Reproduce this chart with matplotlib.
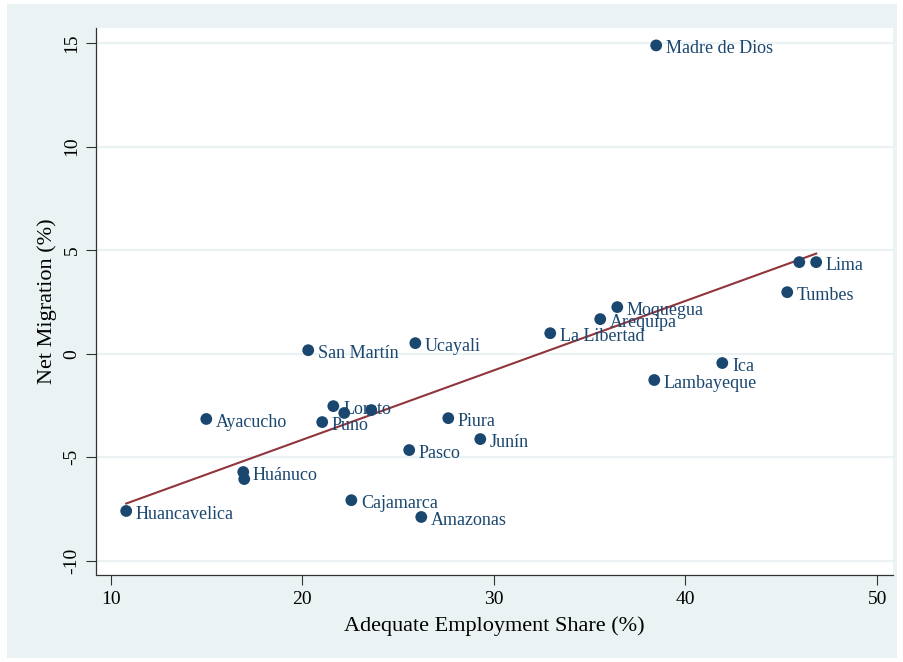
#!/usr/bin/env python3
"""
Net migration vs adequate employment share by region, with linear fit
"""

import numpy as np
import matplotlib.pyplot as plt
from matplotlib.patches import Rectangle

# Region data (x: adequate employment share %, y: net migration %)
regions = ['Madre de Dios', 'Lima', '', 'Tumbes', 'Moquegua', 'Arequipa',
           'La Libertad', 'Ica', 'Lambayeque', 'Ucayali', 'San Martín',
           'Ayacucho', 'Loreto', '', '', 'Puno', 'Piura', 'Junín', 'Pasco',
           'Huánuco', '', 'Cajamarca', 'Amazonas', 'Huancavelica']
emp_share = [38.47, 46.82, 45.94, 45.31, 36.44, 35.55,
             32.94, 41.92, 38.37, 25.90, 20.31,
             14.99, 21.62, 22.19, 23.60, 21.04, 27.62, 29.29, 25.58,
             16.92, 16.97, 22.56, 26.21, 10.81]
net_migr = [14.88, 4.42, 4.42, 2.97, 2.25, 1.67,
            0.99, -0.45, -1.27, 0.51, 0.17,
            -3.15, -2.53, -2.86, -2.72, -3.30, -3.11, -4.12, -4.65,
            -5.71, -6.05, -7.07, -7.88, -7.59]

x_ticks = [10, 20, 30, 40, 50]
y_ticks = [-10, -5, 0, 5, 10, 15]

NAVY = '#1a476f'
MAROON = '#90353b'
BG = '#eaf2f3'

plt.rcParams['font.family'] = ['Liberation Serif', 'DejaVu Serif']

fig = plt.figure(figsize=(9.04, 6.62), dpi=100, facecolor='white')
# outer graph region, drawn beneath the axes
bg = Rectangle((7 / 904, 1 - 658 / 662), 890 / 904, 654 / 662,
               transform=fig.transFigure, facecolor=BG, edgecolor='none')
bg.set_zorder(-10)
fig.add_artist(bg)

ax = fig.add_axes([96.5 / 904, 1 - 575 / 662, 796.5 / 904, 547 / 662])
ax.set_facecolor('white')

x = np.array(emp_share)
y = np.array(net_migr)

# linear fit over the observed range
slope, intercept = np.polyfit(x, y, 1)
xf = np.array([x.min(), x.max()])
ax.plot(xf, intercept + slope * xf, color=MAROON, lw=1.5, zorder=2)

ax.scatter(x, y, s=72, color=NAVY, edgecolors='none', zorder=3)
for name, xi, yi in zip(regions, x, y):
    if name:
        ax.annotate(name, (xi, yi), xytext=(7, -2.5), textcoords='offset points',
                    ha='left', va='center', fontsize=13, color=NAVY, zorder=4)

ax.set_xlim(9.26, 50.83)
ax.set_ylim(-10.68, 15.72)
ax.set_xticks(x_ticks)
ax.set_yticks(y_ticks)
ax.set_yticklabels([str(t) for t in y_ticks], rotation=90, va='center')
ax.tick_params(axis='both', direction='out', length=7.5, width=0.8,
               labelsize=14, color='#333333', pad=4)

ax.grid(axis='y', color=BG, lw=1.6)
ax.set_axisbelow(True)
for side in ['top', 'right']:
    ax.spines[side].set_visible(False)
for side in ['left', 'bottom']:
    ax.spines[side].set_color('#333333')
    ax.spines[side].set_linewidth(0.9)

ax.set_xlabel('Adequate Employment Share (%)', fontsize=16, labelpad=6)
ax.set_ylabel('Net Migration (%)', fontsize=16, labelpad=5)

plt.savefig('out.png', dpi=100, facecolor=fig.get_facecolor())
